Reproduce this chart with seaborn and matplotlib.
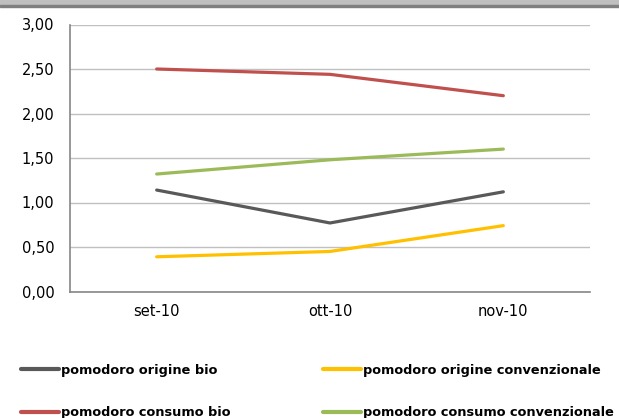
import numpy as np
import pandas as pd
import matplotlib
matplotlib.use("Agg")
import matplotlib.pyplot as plt
import matplotlib.ticker as mticker
from matplotlib.patches import Rectangle
import seaborn as sns

sns.set_style("white")
plt.rcParams['font.family'] = ['DejaVu Sans']
plt.rcParams['text.color'] = 'black'
plt.rcParams['xtick.color'] = 'black'
plt.rcParams['ytick.color'] = 'black'

# dati
mesi = ['set-10', 'ott-10', 'nov-10']
origine_bio = [1.14, 0.77, 1.12]
origine_conv = [0.39, 0.45, 0.74]
consumo_bio = [2.50, 2.44, 2.20]
consumo_conv = [1.32, 1.48, 1.60]

serie = ['pomodoro origine bio', 'pomodoro consumo bio',
         'pomodoro origine convenzionale', 'pomodoro consumo convenzionale']
valori = [origine_bio, consumo_bio, origine_conv, consumo_conv]
colori = ['#595959', '#C0504D', '#FFC000', '#9BBB59']

df = pd.DataFrame({
    'mese': mesi * len(serie),
    'prezzo': np.concatenate(valori),
    'serie': np.repeat(serie, len(mesi)),
})

fig = plt.figure(figsize=(6.19, 4.18), dpi=100)
ax = fig.add_axes([70 / 619, 1 - 291.5 / 418, 520 / 619, 267 / 418])

sns.lineplot(data=df, x='mese', y='prezzo', hue='serie', hue_order=serie,
             palette=colori, linewidth=2.3, ax=ax, legend=False, sort=False)

ax.set_xlim(-0.5, 2.5)
ax.set_ylim(0, 3)
ax.set_yticks(np.arange(0, 3.01, 0.5))
ax.yaxis.set_major_formatter(mticker.FuncFormatter(lambda v, p: f'{v:.2f}'.replace('.', ',')))
ax.set_xticks([0, 1, 2])
ax.set_xticklabels(mesi)
ax.set_xticks([-0.5, 0.5, 1.5, 2.5], minor=True)
ax.tick_params(axis='x', which='major', length=0, pad=9, labelsize=10.5)
ax.tick_params(axis='x', which='minor', length=4, color='#868686', width=1)
ax.tick_params(axis='y', length=4.3, color='#868686', width=1, labelsize=10.5, pad=7)
ax.set_xlabel('')
ax.set_ylabel('')

ax.grid(axis='y', color='#c0c0c0', linewidth=1)
ax.set_axisbelow(True)
for s in ['top', 'right']:
    ax.spines[s].set_visible(False)
for s in ['left', 'bottom']:
    ax.spines[s].set_color('#868686')
    ax.spines[s].set_linewidth(1.2)

handles = [plt.Line2D([], [], color=c, linewidth=3) for c in colori]
fig.legend(handles, serie, ncol=2, loc='upper left',
           bbox_to_anchor=(9 / 619, 1 - 352 / 418), frameon=False,
           prop={'weight': 'bold', 'size': 9.3}, handlelength=2.95,
           handletextpad=0.15, labelspacing=2.3, columnspacing=7.15)

# cornice superiore
fig.patches.append(Rectangle((0, 1 - 5 / 418), 1, 5 / 418, transform=fig.transFigure,
                             color='#bfbfbf', zorder=0))
fig.patches.append(Rectangle((0, 1 - 7 / 418), 1, 2 / 418, transform=fig.transFigure,
                             color='#7f7f7f', zorder=0))

fig.savefig('out.png', dpi=100)
